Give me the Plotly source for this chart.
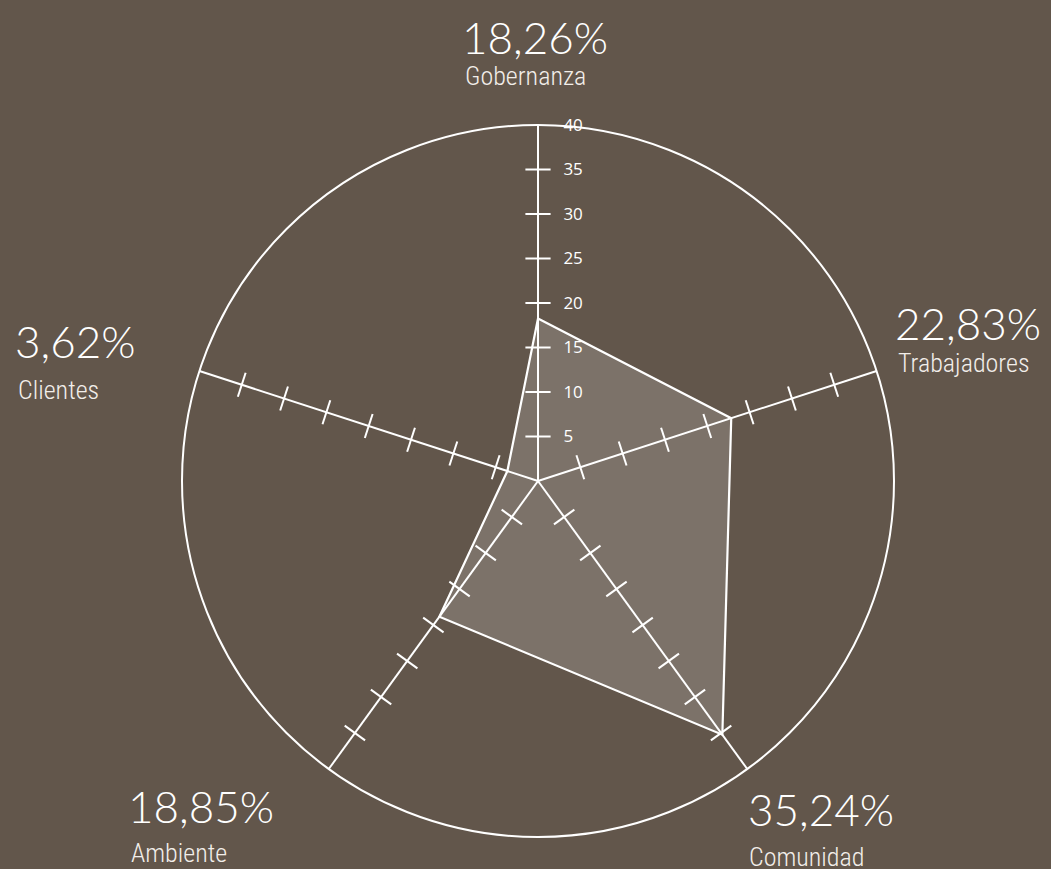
import plotly.graph_objects as go

categories = ["Gobernanza", "Trabajadores", "Comunidad", "Ambiente", "Clientes"]
values = [18.26, 22.83, 35.24, 18.85, 3.62]
pct_labels = ["18,26%", "22,83%", "35,24%", "18,85%", "3,62%"]
tick_vals = [5, 10, 15, 20, 25, 30, 35, 40]
axis_bearings = [0, 72, 144, 216, 288]  # clockwise from north, for tick marker rotation

BG = "#62564b"
WHITE = "#ffffff"
PCT_FONT = dict(family="Lato, Noto Sans, sans-serif", size=44, color=WHITE, weight=300)
CAT_FONT = dict(family="Roboto Condensed, DejaVu Sans Condensed, sans-serif", size=26,
                color="#f2eeea", weight=300)

fig = go.Figure()

# filled polygon
fig.add_trace(go.Scatterpolar(
    r=values + values[:1],
    theta=categories + categories[:1],
    mode="lines",
    fill="toself",
    fillcolor="rgba(255,255,255,0.17)",
    line=dict(color=WHITE, width=2.2),
    hoverinfo="skip",
    showlegend=False,
))

# crossing tick marks on every spoke
for cat, bearing in zip(categories, axis_bearings):
    rs = tick_vals[:-1]
    fig.add_trace(go.Scatterpolar(
        r=rs,
        theta=[cat] * len(rs),
        mode="markers",
        marker=dict(symbol="line-ew", size=18, angle=bearing,
                    line=dict(color=WHITE, width=2)),
        hoverinfo="skip",
        showlegend=False,
    ))

fig.update_layout(
    width=1051,
    height=869,
    margin=dict(l=0, r=0, t=0, b=0),
    paper_bgcolor=BG,
    plot_bgcolor=BG,
    showlegend=False,
    polar=dict(
        bgcolor=BG,
        domain=dict(x=[(538 - 356) / 1051, (538 + 356) / 1051],
                    y=[1 - (481 + 356) / 869, 1 - (481 - 356) / 869]),
        radialaxis=dict(
            range=[0, 40],
            angle=90,
            tickangle=90,
            tickvals=tick_vals,
            ticks="outside",
            ticklen=21,
            tickcolor="rgba(0,0,0,0)",
            showgrid=False,
            showline=True,
            linecolor=WHITE,
            linewidth=2,
            side="clockwise",
            tickfont=dict(family="Open Sans, sans-serif", size=17, color=WHITE),
            layer="above traces",
        ),
        angularaxis=dict(
            categoryorder="array",
            categoryarray=categories,
            direction="clockwise",
            rotation=90,
            showticklabels=False,
            ticks="",
            showgrid=True,
            gridcolor=WHITE,
            gridwidth=2,
            showline=True,
            linecolor=WHITE,
            linewidth=2,
        ),
    ),
)

# labels: (category index, percent x/y px, name x/y px, anchor)
label_pos = [
    (0, 535, 37, 525, 76, "center"),
    (1, 893, 323, 896, 363, "left"),
    (2, 746, 809, 747, 857, "left"),
    (3, 126, 806, 129, 853, "left"),
    (4, 13, 341, 16, 390, "left"),
]
W, H = 1051, 869
for i, px, py, cx, cy, anchor in label_pos:
    fig.add_annotation(x=px / W, y=1 - py / H, xref="paper", yref="paper",
                       text=pct_labels[i], showarrow=False, xanchor=anchor,
                       yanchor="middle", font=PCT_FONT)
    fig.add_annotation(x=cx / W, y=1 - cy / H, xref="paper", yref="paper",
                       text=categories[i], showarrow=False, xanchor=anchor,
                       yanchor="middle", font=CAT_FONT)

fig.write_html("out.html", config={"displayModeBar": False},
               post_script="document.body.style.margin='0';document.body.style.background='" + BG + "';")
